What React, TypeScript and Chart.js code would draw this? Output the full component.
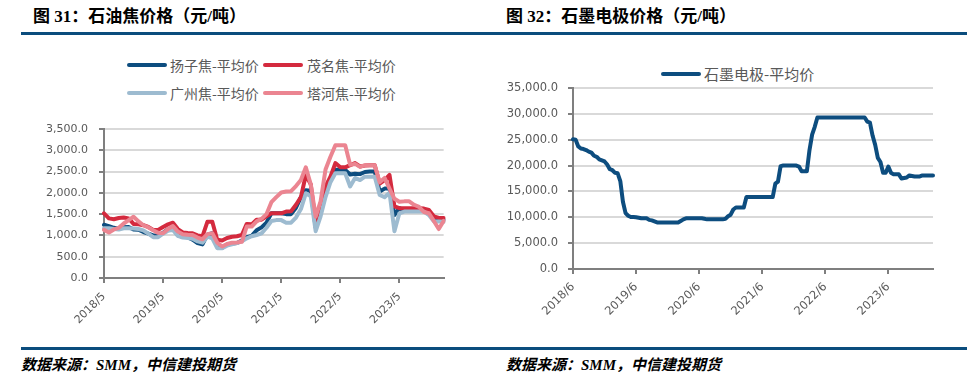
import React, { useEffect, useRef } from "react";
import { Chart, registerables } from "chart.js";
Chart.register(...registerables);

// ---------- data ----------
// Petroleum coke: monthly, 2018/5 .. 2024/2
const cokeStart = { year: 2018, month: 5 };
const cokeCount = 70;
const yangzi = [
  1250, 1220, 1180, 1160, 1190, 1200, 1140, 1135, 1080, 1040, 1000, 1000,
  1060, 1150, 1170, 1000, 970, 960, 900, 820, 790, 1020, 1050, 740,
  710, 790, 810, 820, 880, 960, 990, 1120, 1190, 1300, 1520, 1520,
  1520, 1500, 1500, 1650, 1900, 2060, 2050, 1180, 1550, 2000, 2300, 2540,
  2540, 2540, 2430, 2450, 2440, 2490, 2500, 2500, 2030, 2100, 2100, 1480,
  1640, 1590, 1590, 1590, 1590, 1590, 1500, 1380, 1370, 1370,
];
const maoming = [
  1520, 1400, 1380, 1410, 1420, 1400, 1270, 1260, 1240, 1200, 1130, 1130,
  1200, 1260, 1300, 1150, 1070, 1055, 1050, 1000, 980, 1320, 1320, 900,
  880, 940, 970, 980, 1010, 1270, 1260, 1370, 1370, 1450, 1520, 1520,
  1520, 1560, 1570, 1720, 1900, 2420, 2200, 1280, 1750, 2150, 2380, 2700,
  2600, 2600, 2650, 2700, 2620, 2640, 2650, 2650, 2220, 2300, 2420, 1680,
  1640, 1640, 1640, 1640, 1640, 1630, 1600, 1450, 1410, 1410,
];
const guangzhou = [
  1170, 1170, 1150, 1140, 1170, 1170, 1160, 1150, 1120, 1040, 960, 960,
  1040, 1110, 1130, 990, 950, 940, 920, 860, 830, 970, 930, 700,
  700, 760, 790, 820, 860, 930, 980, 1010, 1050, 1180, 1340, 1360,
  1360, 1300, 1300, 1420, 1620, 1990, 1920, 1100, 1450, 1900, 2250, 2460,
  2460, 2460, 2150, 2350, 2300, 2380, 2380, 2380, 1950, 1900, 2000, 1100,
  1520, 1560, 1560, 1560, 1560, 1560, 1480, 1330, 1330, 1320,
];
const tahe = [
  1130, 1070, 1140, 1180, 1280, 1360, 1440, 1330, 1240, 1190, 1120, 1060,
  1050, 1150, 1220, 1090, 1030, 1016, 1010, 950, 910, 1030, 1050, 830,
  740, 800, 830, 836, 850, 1210, 1210, 1330, 1390, 1500, 1780, 1900,
  2010, 2030, 2040, 2160, 2300, 2600, 2200, 1440, 1800, 2550, 2850, 3120,
  3120, 3120, 2660, 2680, 2610, 2650, 2650, 2650, 2250, 2350, 2100, 1860,
  1790, 1800, 1800, 1720, 1670, 1550, 1520, 1340, 1150, 1340,
];

// Graphite electrode: semi-monthly, 2018/6 .. 2024/2
const electrodeStart = { year: 2018, month: 6 };
const electrodeCount = 138;
const electrode = [
  25100, 25000, 23700, 23300, 23200, 23000, 22700, 22500, 21900, 21700, 21200, 21000,
  20800, 20200, 19300, 19100, 18600, 18500, 17000, 13000, 10800, 10300, 10050, 10050,
  10000, 9900, 9800, 9800, 9800, 9500, 9400, 9200, 9000, 9000, 9000, 9000,
  9000, 9000, 9000, 9000, 9000, 9300, 9600, 9800, 9800, 9800, 9800, 9800,
  9800, 9800, 9700, 9600, 9600, 9600, 9600, 9600, 9600, 9600, 9700, 10200,
  10500, 11500, 11900, 11900, 11900, 11900, 13900, 13900, 13900, 13900, 13900, 13900,
  13900, 13900, 13900, 13900, 13900, 16500, 16900, 19900, 20000, 20000, 20000, 20000,
  20000, 20000, 19800, 18900, 18900, 18900, 23000, 26000, 27500, 29300, 29300, 29300,
  29300, 29300, 29300, 29300, 29300, 29300, 29300, 29300, 29300, 29300, 29300, 29300,
  29300, 29300, 29300, 29300, 28500, 28300, 25800, 24000, 21500, 20700, 18600, 18600,
  19800, 18600, 18300, 18300, 18300, 17500, 17600, 17700, 18100, 18000, 17900, 17900,
  17900, 18100, 18100, 18100, 18100, 18100,
];

const cokeMax = 3500;
const cokeStep = 500;
const electrodeMax = 35000;
const electrodeStep = 5000;

const cokeNames = ["扬子焦-平均价", "茂名焦-平均价", "广州焦-平均价", "塔河焦-平均价"];
const electrodeNames = ["石墨电极-平均价"];
const titles = ["图 31：石油焦价格（元/吨）", "图 32：石墨电极价格（元/吨）"];
const sourceText = "数据来源：SMM，中信建投期货";

const C_DARK = "#0d4d7f";
const C_RED = "#d42a3e";
const C_LIGHT = "#9dbbd0";
const C_PINK = "#eb8591";
const C_BAR = "#0b4d7d";

function monthLabels(start: { year: number; month: number }, n: number): string[] {
  const out: string[] = [];
  for (let i = 0; i < n; i++) {
    const t = start.year * 12 + (start.month - 1) + i;
    out.push(`${Math.floor(t / 12)}/${(t % 12) + 1}`);
  }
  return out;
}

function halfMonthLabels(start: { year: number; month: number }, n: number): string[] {
  const out: string[] = [];
  for (let i = 0; i < n; i++) {
    const t = start.year * 12 + (start.month - 1) + Math.floor(i / 2);
    const base = `${Math.floor(t / 12)}/${(t % 12) + 1}`;
    out.push(i % 2 === 0 ? base : `${base}/16`);
  }
  return out;
}

const fmt = (v: number) =>
  Number(v).toLocaleString("en-US", { minimumFractionDigits: 1, maximumFractionDigits: 1 });

function buildOptions(cfg: {
  max: number;
  step: number;
  yWidth: number;
  xHeight: number;
  padTop: number;
  padRight: number;
  fontSize: number;
  every: number;
  yPad: number;
  xPad: number;
}) {
  const font = { family: "'DejaVu Sans', sans-serif", size: cfg.fontSize };
  return {
    responsive: false,
    animation: false,
    events: [],
    layout: { padding: { top: cfg.padTop, right: cfg.padRight, left: 0, bottom: 0 } },
    plugins: { legend: { display: false }, tooltip: { enabled: false } },
    elements: { point: { radius: 0 } },
    scales: {
      x: {
        type: "category",
        offset: false,
        afterFit: (s: any) => {
          s.height = cfg.xHeight;
        },
        border: { display: true, color: "#7f7f7f", width: 2 },
        grid: {
          display: true,
          drawOnChartArea: false,
          drawTicks: true,
          tickLength: 5,
          lineWidth: 2,
          color: (ctx: any) => (ctx.index % cfg.every === 0 ? "#7f7f7f" : "rgba(0,0,0,0)"),
        },
        ticks: {
          autoSkip: false,
          minRotation: 45,
          maxRotation: 45,
          padding: cfg.xPad,
          color: "#595959",
          font,
          callback: function (this: any, _v: any, i: number) {
            return i % cfg.every === 0 ? this.getLabelForValue(i) : "";
          },
        },
      },
      y: {
        min: 0,
        max: cfg.max,
        afterFit: (s: any) => {
          s.width = cfg.yWidth;
        },
        border: { display: true, color: "#7f7f7f", width: 2 },
        grid: {
          color: "#d9d9d9",
          lineWidth: 2,
          drawTicks: true,
          tickLength: 5,
          tickColor: "#7f7f7f",
        },
        ticks: {
          stepSize: cfg.step,
          padding: cfg.yPad,
          color: "#595959",
          font,
          callback: (v: any) => fmt(v),
        },
      },
    },
  };
}

function lineDs(label: string, data: number[], color: string, order: number) {
  return {
    label,
    data,
    borderColor: color,
    backgroundColor: color,
    borderWidth: 4,
    pointRadius: 0,
    tension: 0,
    borderJoinStyle: "round",
    borderCapStyle: "round",
    order,
  };
}

function ChartCanvas(props: {
  left: number;
  top: number;
  width: number;
  height: number;
  make: () => any;
}) {
  const ref = useRef<HTMLCanvasElement | null>(null);
  useEffect(() => {
    if (!ref.current) return;
    const chart = new Chart(ref.current, props.make());
    return () => chart.destroy();
  }, []);
  return (
    <canvas
      ref={ref}
      width={props.width}
      height={props.height}
      style={{
        position: "absolute",
        left: props.left,
        top: props.top,
        width: props.width,
        height: props.height,
      }}
    />
  );
}

function LegendItem(props: { x: number; y: number; color: string; text: string; size: number; textX: number }) {
  return (
    <>
      <div
        style={{
          position: "absolute",
          left: props.x,
          top: props.y - 2,
          width: 40,
          height: 4,
          borderRadius: 2,
          background: props.color,
        }}
      />
      <div
        style={{
          position: "absolute",
          left: props.textX,
          top: props.y - 11,
          height: 22,
          lineHeight: "22px",
          fontSize: props.size,
          color: "#595959",
          whiteSpace: "nowrap",
          fontFamily: "'Noto Sans CJK SC', 'DejaVu Sans', sans-serif",
        }}
      >
        {props.text}
      </div>
    </>
  );
}

const titleStyle: React.CSSProperties = {
  position: "absolute",
  top: 6,
  height: 22,
  lineHeight: "22px",
  fontSize: 17,
  fontWeight: "bold",
  color: "#000",
  whiteSpace: "nowrap",
  fontFamily: "'Liberation Serif', 'Noto Sans CJK SC', serif",
};

const sourceStyle: React.CSSProperties = {
  position: "absolute",
  top: 355,
  height: 20,
  lineHeight: "20px",
  fontSize: 15,
  fontWeight: "bold",
  fontStyle: "italic",
  color: "#000",
  whiteSpace: "nowrap",
  fontFamily: "'Liberation Serif', 'Noto Sans CJK SC', serif",
};

export default function App() {
  const cokeLabels = monthLabels(cokeStart, cokeCount);
  const electrodeLabels = halfMonthLabels(electrodeStart, electrodeCount);

  const makeCoke = () => ({
    type: "line",
    data: {
      labels: cokeLabels,
      datasets: [
        lineDs(cokeNames[0], yangzi, C_DARK, 3),
        lineDs(cokeNames[1], maoming, C_RED, 2),
        lineDs(cokeNames[2], guangzhou, C_LIGHT, 1),
        lineDs(cokeNames[3], tahe, C_PINK, 0),
      ],
    },
    options: buildOptions({
      max: cokeMax,
      step: cokeStep,
      yWidth: 84,
      xHeight: 52,
      padTop: 19,
      padRight: 10,
      fontSize: 11,
      every: 12,
      yPad: 11,
      xPad: 7,
    }),
  });

  const makeElectrode = () => ({
    type: "line",
    data: {
      labels: electrodeLabels,
      datasets: [lineDs(electrodeNames[0], electrode, C_DARK, 0)],
    },
    options: buildOptions({
      max: electrodeMax,
      step: electrodeStep,
      yWidth: 83,
      xHeight: 61,
      padTop: 18,
      padRight: 17,
      fontSize: 11.5,
      every: 24,
      yPad: 10,
      xPad: 6,
    }),
  });

  return (
    <div
      style={{
        position: "absolute",
        left: 0,
        top: 0,
        width: 975,
        height: 379,
        background: "#fff",
        overflow: "hidden",
      }}
    >
      <div style={{ ...titleStyle, left: 33 }}>{titles[0]}</div>
      <div style={{ ...titleStyle, left: 506 }}>{titles[1]}</div>
      <div style={{ position: "absolute", left: 21, top: 32, width: 946, height: 3, background: C_BAR }} />

      <LegendItem x={127} y={65} color={C_DARK} text={cokeNames[0]} size={14} textX={170} />
      <LegendItem x={263} y={65} color={C_RED} text={cokeNames[1]} size={14} textX={307} />
      <LegendItem x={127} y={93} color={C_LIGHT} text={cokeNames[2]} size={14} textX={170} />
      <LegendItem x={263} y={93} color={C_PINK} text={cokeNames[3]} size={14} textX={307} />
      <LegendItem x={661} y={74} color={C_DARK} text={electrodeNames[0]} size={15} textX={704} />

      <ChartCanvas left={20} top={110} width={440} height={220} make={makeCoke} />
      <ChartCanvas left={490} top={70} width={460} height={260} make={makeElectrode} />

      <div style={{ position: "absolute", left: 21, top: 347, width: 946, height: 3, background: C_BAR }} />
      <div style={{ ...sourceStyle, left: 21 }}>{sourceText}</div>
      <div style={{ ...sourceStyle, left: 506 }}>{sourceText}</div>
    </div>
  );
}
